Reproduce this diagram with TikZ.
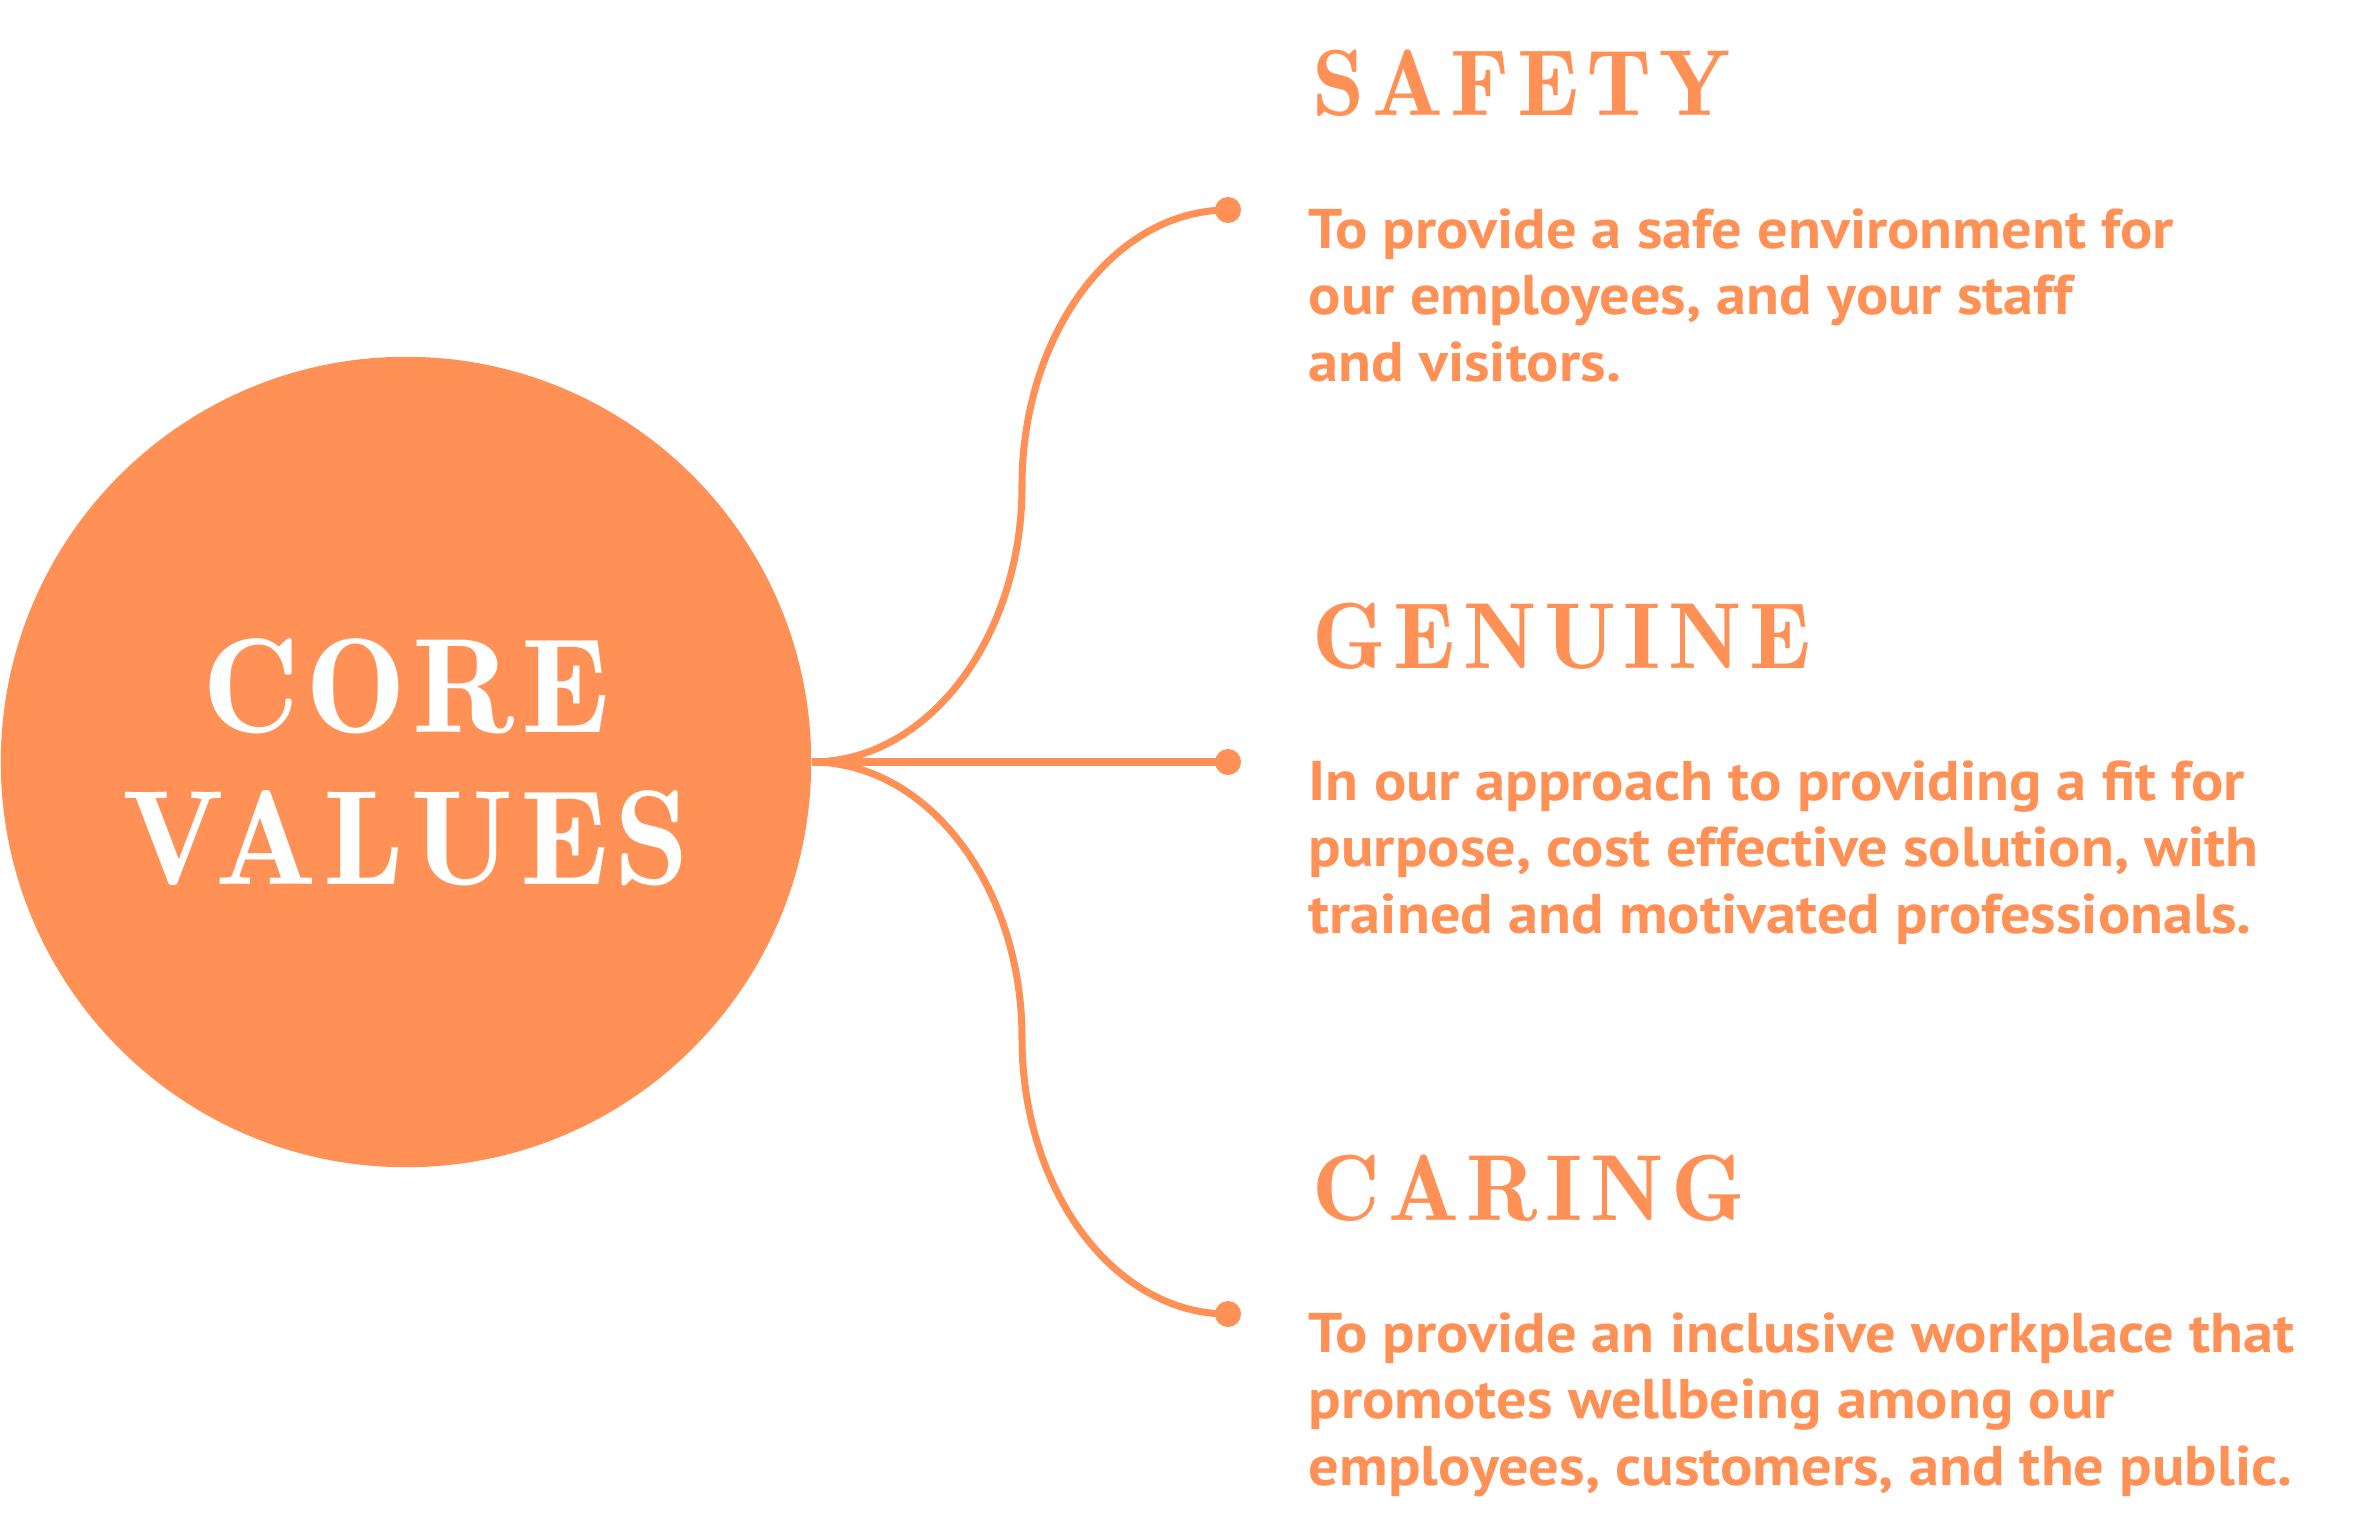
\documentclass[tikz,border=0pt]{standalone}
\usepackage{fontspec}
\usepackage{tikz}
\usetikzlibrary{positioning}
\newfontfamily\headfont[LetterSpace=8]{lmromandemi10-regular.otf}
\newfontfamily\corefont[LetterSpace=4.5]{lmromandemi10-regular.otf}
\newfontfamily\bodyfont[FakeStretch=1.08]{PT Sans}
\definecolor{cvorange}{RGB}{255,144,86}

\begin{document}
\begin{tikzpicture}[x=0.01cm, y=-0.01cm,
  corenode/.style={circle, fill=cvorange, minimum size=8.1cm, inner sep=0pt, text=white, align=center, font=\corefont\fontsize{38.3}{43.2}\selectfont},
  dotnode/.style={circle, fill=cvorange, minimum size=0.26cm, inner sep=0pt},
  headnode/.style={anchor=base west, inner sep=0pt, text=cvorange, font=\headfont\fontsize{26.7}{30}\selectfont},
  bodynode/.style={anchor=base west, inner sep=0pt, text=cvorange, align=left, font=\bodyfont\bfseries\fontsize{15.9}{18.9}\selectfont},
  link/.style={draw=cvorange, line width=2pt}]
\useasboundingbox (0,0) rectangle (2353,1527);
% Centre circle
\node[corenode] (core) at (406,762) {CORE\\VALUES};
% Headings
\node[headnode] (safety) at (1312,116) {SAFETY};
\node[headnode] (genuine) at (1312,668) {GENUINE};
\node[headnode] (caring) at (1312,1220) {CARING};
% Descriptions (placed at the last baseline)
\node[bodynode] (safetytxt) at (1308,381) {To provide a safe environment for\\our employees, and your staff\\and visitors.};
\node[bodynode] (genuinetxt) at (1308,933) {In our approach to providing a fit for\\purpose, cost effective solution, with\\trained and motivated professionals.};
\node[bodynode] (caringtxt) at (1308,1485) {To provide an inclusive workplace that\\promotes wellbeing among our\\employees, customers, and the public.};
% End dots and bends
\node[dotnode] (d1) at (1228,210) {};
\node[dotnode] (d2) at (1228,762) {};
\node[dotnode] (d3) at (1228,1314) {};
\coordinate (b1) at (1022,486);
\coordinate (b3) at (1022,1038);
% Connections
\draw[link] (core.east) .. controls +(116,0) and +(0,152) .. (b1) .. controls +(0,-152) and +(-114,0) .. (d1.center);
\draw[link] (core.east) -- (d2.center);
\draw[link] (core.east) .. controls +(116,0) and +(0,-152) .. (b3) .. controls +(0,152) and +(-114,0) .. (d3.center);
\end{tikzpicture}
\end{document}
